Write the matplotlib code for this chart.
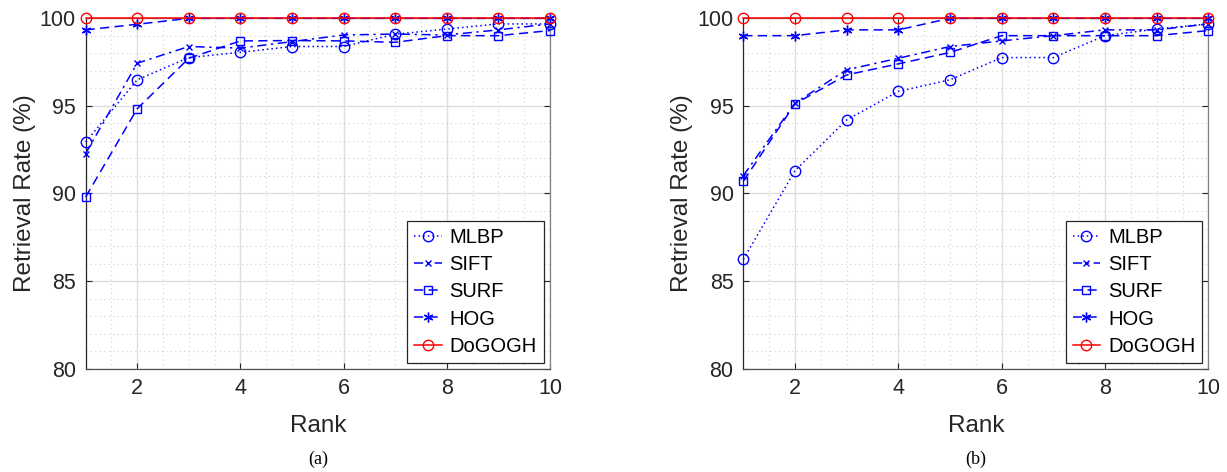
import numpy as np
import matplotlib
matplotlib.use("Agg")
from matplotlib import pyplot as plt
from matplotlib.ticker import MultipleLocator

plt.rcParams['font.family'] = ['Liberation Sans', 'DejaVu Sans']

rank = [1, 2, 3, 4, 5, 6, 7, 8, 9, 10]
methods = ['MLBP', 'SIFT', 'SURF', 'HOG', 'DoGOGH']

# panel (a)
mlbp_a = [92.94, 96.49, 97.76, 98.06, 98.39, 98.39, 99.09, 99.39, 99.68, 99.68]
sift_a = [92.28, 97.44, 98.39, 98.30, 98.67, 99.05, 99.10, 99.05, 99.34, 99.68]
surf_a = [89.80, 94.84, 97.72, 98.71, 98.73, 98.71, 98.63, 99.01, 99.01, 99.30]
hog_a = [99.34, 99.66, 100, 100, 100, 100, 100, 100, 100, 100]
dogogh_a = [100, 100, 100, 100, 100, 100, 100, 100, 100, 100]

# panel (b)
mlbp_b = [86.24, 91.30, 94.20, 95.83, 96.49, 97.76, 97.76, 99.01, 99.39, 99.68]
sift_b = [91.02, 95.16, 97.06, 97.72, 98.39, 98.71, 99.01, 99.34, 99.34, 99.68]
surf_b = [90.70, 95.12, 96.77, 97.40, 98.05, 99.01, 99.01, 99.01, 99.01, 99.30]
hog_b = [99.01, 99.01, 99.34, 99.34, 100, 100, 100, 100, 100, 100]
dogogh_b = [100, 100, 100, 100, 100, 100, 100, 100, 100, 100]

panels = [
    ('(a)', [mlbp_a, sift_a, surf_a, hog_a, dogogh_a]),
    ('(b)', [mlbp_b, sift_b, surf_b, hog_b, dogogh_b]),
]

blue = '#0000ff'
styles = [
    dict(color=blue, linestyle=(0, (1, 2)), marker='o', markersize=7.5, mfc='none'),
    dict(color=blue, linestyle=(0, (6, 3, 1.5, 3)), marker='x', markersize=5),
    dict(color=blue, linestyle=(0, (6, 3.5)), marker='s', markersize=5.5, mfc='none'),
    dict(color=blue, linestyle=(0, (6, 3.5)), marker=(6, 2, 0), markersize=7),
    dict(color='#ff0000', linestyle='-', marker='o', markersize=7.5, mfc='none'),
]

fig = plt.figure(figsize=(12.27, 4.72), dpi=100)
positions = [[0.0698, 0.2189, 0.3784, 0.7423], [0.6058, 0.2189, 0.3790, 0.7423]]
txt = '#262626'

for (cap, series), pos in zip(panels, positions):
    ax = fig.add_axes(pos)
    for name, vals, st in zip(methods, series, styles):
        ax.plot(rank, vals, lw=1.1, mew=1.0, label=name, clip_on=False,
                zorder=3, **st)

    ax.set_xlim(1, 10)
    ax.set_ylim(80, 100)
    ax.xaxis.set_major_locator(MultipleLocator(2))
    ax.xaxis.set_minor_locator(MultipleLocator(0.5))
    ax.yaxis.set_major_locator(MultipleLocator(5))
    ax.yaxis.set_minor_locator(MultipleLocator(1))
    ax.grid(which='major', color='#dedede', lw=1.0)
    ax.grid(which='minor', color='#cfcfcf', lw=0.8, linestyle=(0, (1, 3)))
    ax.set_axisbelow(True)

    ax.tick_params(which='both', direction='in', top=True, right=True,
                   labelsize=15.5, colors=txt)
    ax.tick_params(which='major', length=4, width=0.8, pad=7)
    ax.tick_params(which='minor', length=0)
    ax.spines['left'].set_color('#262626')
    ax.spines['bottom'].set_color('#505050')
    ax.spines['right'].set_color('#808080')
    ax.spines['top'].set_color('#808080')
    for sp in ax.spines.values():
        sp.set_linewidth(0.9)

    ax.set_xlabel('Rank', fontsize=17.5, color=txt, labelpad=11)
    ax.set_ylabel('Retrieval Rate (%)', fontsize=17.5, color=txt, labelpad=3)

    leg = ax.legend(loc='lower right', fontsize=14.5, frameon=True, fancybox=False,
                    edgecolor='#262626', framealpha=1, handlelength=1.35,
                    handletextpad=0.4, borderpad=0.35, labelspacing=0.4,
                    borderaxespad=0.3)
    leg.get_frame().set_linewidth(0.9)
    leg.set_zorder(5)

    x0, _, w, _ = pos
    fig.text(x0 + w / 2, 0.026, cap, ha='center', va='center',
             fontsize=13, family='Liberation Serif')

fig.savefig('out.png', dpi=100)
